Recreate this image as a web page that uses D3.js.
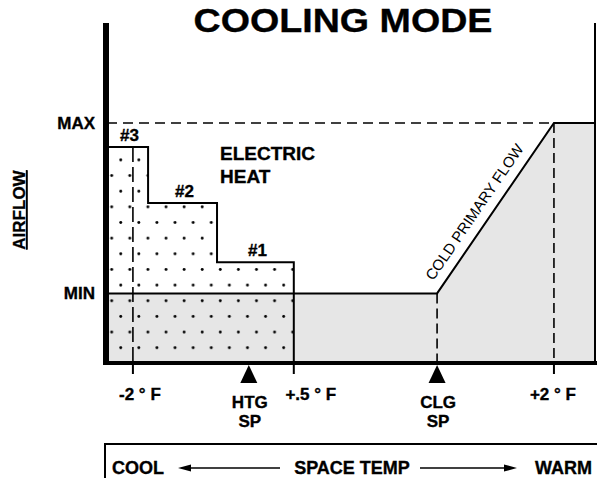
<!DOCTYPE html>
<html>
<head>
<meta charset="utf-8">
<script src="https://cdn.jsdelivr.net/npm/d3@7"></script>
<style>
    body { margin: 0; background: #fff; }
    svg text { font-family: "Liberation Sans", Arial, Helvetica, sans-serif; font-weight: bold; fill: #000; stroke: #000; stroke-width: 0.35px; }
</style>
</head>
<body>
<div id="chart"></div>
<script>
// schematic positions along the space temp axis (0 = left edge, 100 = right edge)
const tempTicks = [5.3, 38.2, 91.4];
const tempLabels = ['-2 ° F', '+.5 ° F', '+2 ° F'];
const setpointPos = [29.0, 67.5];
const setpointLabels = [['HTG', 'SP'], ['CLG', 'SP']];

// airflow in % of max
const airflowLevels = ['MAX', 'MIN'];
const airflowValues = [100, 29];

// electric heat stages
const stageNames = ['#3', '#2', '#1'];
const stageEnds = [8.4, 22.5, 38.2];
const stageFlow = [90, 66.7, 42];

// cold primary flow curve
const coolingX = [0, 67.5, 91.4, 100];
const coolingFlow = [29, 29, 100, 100];

const width = 597;
const height = 478;
const axisTopFlow = 141.7;

const x = d3.scaleLinear().domain([0, 100]).range([107, 596]);
const y = d3.scaleLinear().domain([0, 100]).range([363, 123]);

const svg = d3.select('#chart')
    .append('svg')
    .attr('width', width)
    .attr('height', height);

// dot pattern for electric heat area
const pat = svg.append('defs').append('pattern')
    .attr('id', 'dots')
    .attr('patternUnits', 'userSpaceOnUse')
    .attr('width', 18.1)
    .attr('height', 31.3);
pat.append('circle').attr('cx', 3.1).attr('cy', 19.0).attr('r', 1.45).attr('fill', '#000');
pat.append('circle').attr('cx', 12.15).attr('cy', 3.35).attr('r', 1.45).attr('fill', '#000');

// title
svg.append('text')
    .attr('transform', 'translate(343,32) scale(1.14,1)')
    .attr('text-anchor', 'middle')
    .style('font-size', '33px')
    .text('COOLING MODE');

// gray area under the cold primary flow
const coolPts = coolingX.map((d, i) => [d, coolingFlow[i]]);
const area = d3.area()
    .x(d => x(d[0]))
    .y0(y(0))
    .y1(d => y(d[1]));
svg.append('path')
    .datum(coolPts)
    .attr('d', area)
    .attr('fill', '#e6e6e6');

// stepped electric heat region
const stepPts = [[0, 0]];
let prevX = 0;
stageEnds.forEach((end, i) => {
    stepPts.push([prevX, stageFlow[i]]);
    stepPts.push([end, stageFlow[i]]);
    prevX = end;
});
stepPts.push([prevX, 0]);
const stepLine = d3.line().x(d => x(d[0])).y(d => y(d[1]));
svg.append('path')
    .attr('d', stepLine(stepPts) + 'Z')
    .attr('fill', 'url(#dots)');

// step outline
svg.append('path')
    .attr('d', stepLine(stepPts.slice(1)))
    .attr('fill', 'none')
    .attr('stroke', '#000')
    .attr('stroke-width', 2);

// cold primary flow line
svg.append('path')
    .attr('d', stepLine(coolPts))
    .attr('fill', 'none')
    .attr('stroke', '#000')
    .attr('stroke-width', 2);

// right edge line
svg.append('line')
    .attr('x1', x(100) - 1).attr('x2', x(100) - 1)
    .attr('y1', y(axisTopFlow)).attr('y2', y(0))
    .attr('stroke', '#000')
    .attr('stroke-width', 2);

// dashed MAX line
svg.append('line')
    .attr('x1', x(0)).attr('x2', x(tempTicks[2]))
    .attr('y1', y(airflowValues[0])).attr('y2', y(airflowValues[0]))
    .attr('stroke', '#000')
    .attr('stroke-width', 1.6)
    .attr('stroke-dasharray', '10,6');

// dashed verticals
svg.append('line')
    .attr('x1', x(tempTicks[0])).attr('x2', x(tempTicks[0]))
    .attr('y1', y(stageFlow[0])).attr('y2', y(0))
    .attr('stroke', '#000').attr('stroke-width', 1.6)
    .attr('stroke-dasharray', '15,5');
svg.append('line')
    .attr('x1', x(setpointPos[1])).attr('x2', x(setpointPos[1]))
    .attr('y1', y(airflowValues[1])).attr('y2', y(0))
    .attr('stroke', '#000').attr('stroke-width', 1.6)
    .attr('stroke-dasharray', '10,5');
svg.append('line')
    .attr('x1', x(tempTicks[2])).attr('x2', x(tempTicks[2]))
    .attr('y1', y(airflowValues[0])).attr('y2', y(0))
    .attr('stroke', '#000').attr('stroke-width', 1.6)
    .attr('stroke-dasharray', '10,5');

// axes
svg.append('line')
    .attr('x1', x(0) - 1).attr('x2', x(0) - 1)
    .attr('y1', y(axisTopFlow)).attr('y2', y(0) + 2)
    .attr('stroke', '#000')
    .attr('stroke-width', 6);
svg.append('line')
    .attr('x1', x(0) - 4).attr('x2', width)
    .attr('y1', y(0)).attr('y2', y(0))
    .attr('stroke', '#000')
    .attr('stroke-width', 4);

// ticks below the axis
svg.selectAll('.tick')
    .data(tempTicks)
    .enter()
    .append('line')
    .attr('class', 'tick')
    .attr('x1', d => x(d)).attr('x2', d => x(d))
    .attr('y1', y(0)).attr('y2', y(0) + 11)
    .attr('stroke', '#000')
    .attr('stroke-width', 2);

const labelNudge = [7, 17, -1];
svg.selectAll('.tlabel')
    .data(tempLabels)
    .enter()
    .append('text')
    .attr('class', 'tlabel')
    .attr('x', (d, i) => x(tempTicks[i]) + labelNudge[i])
    .attr('y', 400)
    .attr('text-anchor', 'middle')
    .style('font-size', '17px')
    .text(d => d);

// setpoint markers
const sp = svg.selectAll('.sp')
    .data(setpointPos)
    .enter()
    .append('g')
    .attr('class', 'sp')
    .attr('transform', d => `translate(${x(d)},0)`);
sp.append('path')
    .attr('d', `M0,${y(0) + 2}L8.5,${y(0) + 20}L-8.5,${y(0) + 20}Z`)
    .attr('fill', '#000');
sp.append('text')
    .attr('x', 1)
    .attr('y', 408)
    .attr('text-anchor', 'middle')
    .style('font-size', '17px')
    .text((d, i) => setpointLabels[i][0]);
sp.append('text')
    .attr('x', 1)
    .attr('y', 427)
    .attr('text-anchor', 'middle')
    .style('font-size', '17px')
    .text((d, i) => setpointLabels[i][1]);

// airflow labels
svg.selectAll('.alabel')
    .data(airflowLevels)
    .enter()
    .append('text')
    .attr('class', 'alabel')
    .attr('x', 95)
    .attr('y', (d, i) => y(airflowValues[i]))
    .attr('dy', '0.35em')
    .attr('text-anchor', 'end')
    .style('font-size', '17px')
    .text(d => d);

// AIRFLOW axis title, underlined
svg.append('text')
    .attr('transform', 'translate(25,210) rotate(-90)')
    .attr('text-anchor', 'middle')
    .style('font-size', '17px')
    .style('text-decoration', 'underline')
    .text('AIRFLOW');

// stage labels
svg.selectAll('.stage')
    .data(stageNames)
    .enter()
    .append('text')
    .attr('class', 'stage')
    .attr('x', (d, i) => (x(i === 0 ? 0 : stageEnds[i - 1]) + x(stageEnds[i])) / 2 + 2)
    .attr('y', (d, i) => y(stageFlow[i]) - 6)
    .attr('text-anchor', 'middle')
    .style('font-size', '17px')
    .text(d => d);

svg.append('text')
    .attr('x', 220).attr('y', 160)
    .style('font-size', '19px')
    .text('ELECTRIC');
svg.append('text')
    .attr('x', 220).attr('y', 183)
    .style('font-size', '19px')
    .text('HEAT');

// cold primary flow label along the diagonal
const p0 = [x(coolingX[1]), y(coolingFlow[1])];
const p1 = [x(coolingX[2]), y(coolingFlow[2])];
const ang = Math.atan2(p1[1] - p0[1], p1[0] - p0[0]) * 180 / Math.PI;
svg.append('text')
    .attr('transform', `translate(${(p0[0] + p1[0]) / 2},${(p0[1] + p1[1]) / 2}) rotate(${ang})`)
    .attr('x', -15)
    .attr('y', -10)
    .attr('text-anchor', 'middle')
    .style('font-size', '15px')
    .style('font-weight', 'normal')
    .style('stroke-width', '0px')
    .text('COLD PRIMARY FLOW');

// space temp bar at the bottom
svg.append('path')
    .attr('d', `M105,${height}V444H${width}`)
    .attr('fill', 'none')
    .attr('stroke', '#000')
    .attr('stroke-width', 2);
svg.append('text').attr('x', 112).attr('y', 474).style('font-size', '18px').text('COOL');
svg.append('text').attr('x', 352).attr('y', 474).attr('text-anchor', 'middle').style('font-size', '18px').text('SPACE TEMP');
svg.append('text').attr('x', 592).attr('y', 474).attr('text-anchor', 'end').style('font-size', '18px').text('WARM');

// arrows
[[280, 178], [420, 517]].forEach(a => {
    const dir = Math.sign(a[1] - a[0]);
    svg.append('line')
        .attr('x1', a[0]).attr('x2', a[1] - dir * 8)
        .attr('y1', 468).attr('y2', 468)
        .attr('stroke', '#000').attr('stroke-width', 1.3);
    svg.append('path')
        .attr('d', `M${a[1]},468L${a[1] - dir * 13},464.5L${a[1] - dir * 13},471.5Z`)
        .attr('fill', '#000');
});
</script>
</body>
</html>
